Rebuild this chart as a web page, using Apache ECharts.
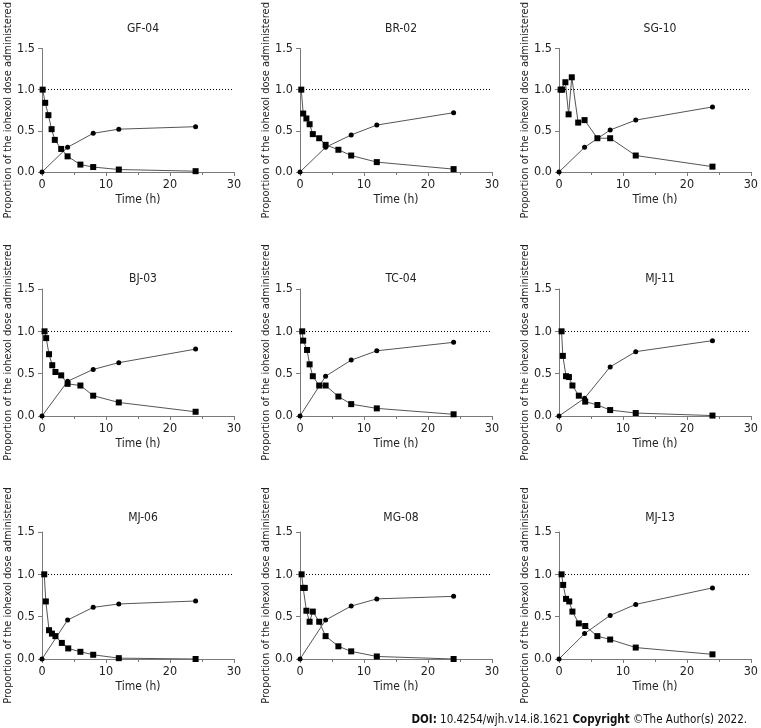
<!DOCTYPE html>
<html>
<head>
<meta charset="utf-8">
<script src="https://cdn.jsdelivr.net/npm/echarts@6/dist/echarts.min.js"></script>
<style>
html,body{margin:0;padding:0;background:#fff;}
#chart{width:761px;height:728px;}
</style>
</head>
<body>
<div id="chart"></div>
<script>
// ---- data ----
const panelNames = ['GF-04','BR-02','SG-10','BJ-03','TC-04','MJ-11','MJ-06','MG-08','MJ-13'];
const circleTime = [0, 4, 8, 12, 24];
const yTicks = [0, 0.5, 1.0, 1.5];
const xTicks = [0, 10, 20, 30];

const GF04_sqT = [0.1, 0.5, 1, 1.5, 2, 3, 4, 6, 8, 12, 24];
const GF04_sqV = [1.0, 0.84, 0.69, 0.52, 0.39, 0.28, 0.19, 0.09, 0.06, 0.03, 0.01];
const GF04_ciV = [0, 0.30, 0.47, 0.52, 0.55];

const BR02_sqT = [0.2, 0.5, 1, 1.5, 2, 3, 4, 6, 8, 12, 24];
const BR02_sqV = [1.0, 0.71, 0.65, 0.58, 0.46, 0.41, 0.33, 0.27, 0.20, 0.12, 0.035];
const BR02_ciV = [0, 0.30, 0.45, 0.57, 0.72];

const SG10_sqT = [0.25, 0.5, 1, 1.5, 2, 3, 4, 6, 8, 12, 24];
const SG10_sqV = [1.0, 1.0, 1.09, 0.70, 1.15, 0.60, 0.63, 0.41, 0.41, 0.20, 0.065];
const SG10_ciV = [0, 0.30, 0.51, 0.63, 0.79];

const BJ03_sqT = [0.4, 0.65, 1.1, 1.6, 2.1, 3, 4, 6, 8, 12, 24];
const BJ03_sqV = [1.0, 0.92, 0.73, 0.60, 0.52, 0.48, 0.38, 0.36, 0.24, 0.16, 0.05];
const BJ03_ciV = [0, 0.41, 0.55, 0.63, 0.79];

const TC04_sqT = [0.35, 0.5, 1.1, 1.5, 2, 3, 4, 6, 8, 12, 24];
const TC04_sqV = [1.0, 0.89, 0.78, 0.61, 0.47, 0.36, 0.36, 0.23, 0.14, 0.09, 0.02];
const TC04_ciV = [0, 0.47, 0.66, 0.77, 0.87];

const MJ11_sqT = [0.4, 0.6, 1.1, 1.55, 2.1, 3.1, 4.1, 6, 8, 12, 24];
const MJ11_sqV = [1.0, 0.71, 0.47, 0.46, 0.36, 0.24, 0.17, 0.13, 0.07, 0.035, 0.005];
const MJ11_ciV = [0, 0.21, 0.58, 0.76, 0.89];

const MJ06_sqT = [0.35, 0.6, 1.1, 1.55, 2.1, 3.1, 4.1, 6, 8, 12, 24];
const MJ06_sqV = [1.0, 0.68, 0.34, 0.30, 0.27, 0.19, 0.125, 0.085, 0.05, 0.01, 0.0];
const MJ06_ciV = [0, 0.46, 0.61, 0.65, 0.685];

const MG08_sqT = [0.25, 0.5, 0.75, 1, 1.5, 2, 3, 4, 6, 8, 12, 24];
const MG08_sqV = [1.0, 0.84, 0.84, 0.57, 0.44, 0.56, 0.44, 0.27, 0.15, 0.09, 0.03, 0.0];
const MG08_ciV = [0, 0.46, 0.625, 0.71, 0.74];

const MJ13_sqT = [0.4, 0.65, 1.1, 1.6, 2.1, 3.1, 4.1, 6, 8, 12, 24];
const MJ13_sqV = [1.0, 0.875, 0.71, 0.68, 0.56, 0.42, 0.39, 0.27, 0.23, 0.135, 0.055];
const MJ13_ciV = [0, 0.30, 0.515, 0.645, 0.84];

const panelSquares = [
  [GF04_sqT, GF04_sqV], [BR02_sqT, BR02_sqV], [SG10_sqT, SG10_sqV],
  [BJ03_sqT, BJ03_sqV], [TC04_sqT, TC04_sqV], [MJ11_sqT, MJ11_sqV],
  [MJ06_sqT, MJ06_sqV], [MG08_sqT, MG08_sqV], [MJ13_sqT, MJ13_sqV]
];
const panelCircles = [GF04_ciV, BR02_ciV, SG10_ciV, BJ03_ciV, TC04_ciV, MJ11_ciV, MJ06_ciV, MG08_ciV, MJ13_ciV];

// ---- layout ----
const FONT = "'DejaVu Sans Condensed', 'DejaVu Sans', sans-serif";
const colLeft = [42, 300, 559];
const plotW = 192;
const rowTop = [44, 289, 532];
const rowH = [128, 127, 127];
const titleTop = [18, 268, 507];
const AXC = '#7a7a7a';
const TXT = '#222';

const grids = [], xAxes = [], yAxes = [], series = [], titles = [];
panelNames.forEach((name, i) => {
  const r = Math.floor(i / 3), c = i % 3;
  grids.push({left: colLeft[c], top: rowTop[r], width: plotW, height: rowH[r], containLabel: false});
  titles.push({
    text: name, left: colLeft[c] + plotW / 2, top: titleTop[r], textAlign: 'center',
    textStyle: {fontFamily: FONT, fontSize: 12, fontWeight: 'normal', color: TXT}
  });
  xAxes.push({
    type: 'value', gridIndex: i, min: xTicks[0], max: xTicks[xTicks.length - 1], interval: 10,
    name: 'Time (h)', nameLocation: 'middle', nameGap: 22,
    nameTextStyle: {fontFamily: FONT, fontSize: 12, color: TXT},
    axisLine: {show: true, lineStyle: {color: AXC, width: 1}},
    axisTick: {show: true, length: 4, lineStyle: {color: AXC}},
    minorTick: {show: true, splitNumber: 2, length: 3, lineStyle: {color: AXC}},
    axisLabel: {fontFamily: FONT, fontSize: 12.5, color: TXT, margin: 6},
    splitLine: {show: false}
  });
  yAxes.push({
    type: 'value', gridIndex: i, min: yTicks[0], max: yTicks[yTicks.length - 1], interval: 0.5,
    name: 'Proportion of the iohexol dose administered', nameLocation: 'middle', nameGap: 28,
    nameTextStyle: {fontFamily: FONT, fontSize: 11, color: TXT, padding: [0, 0, 0, 0]},
    axisLine: {show: true, lineStyle: {color: AXC, width: 1}},
    axisTick: {show: true, length: 4, lineStyle: {color: AXC}},
    axisLabel: {fontFamily: FONT, fontSize: 12.5, color: TXT, margin: 7, formatter: v => v.toFixed(1)},
    splitLine: {show: false}
  });
  const [sqT, sqV] = panelSquares[i];
  series.push({
    type: 'line', xAxisIndex: i, yAxisIndex: i, silent: true,
    data: circleTime.map((t, k) => [t, panelCircles[i][k]]),
    symbol: 'circle', symbolSize: 5,
    itemStyle: {color: '#000'}, lineStyle: {color: '#555', width: 1}, z: 2
  });
  series.push({
    type: 'line', xAxisIndex: i, yAxisIndex: i, silent: true,
    data: sqT.map((t, k) => [t, sqV[k]]),
    symbol: 'rect', symbolSize: 6,
    itemStyle: {color: '#000'}, lineStyle: {color: '#555', width: 1}, z: 3,
    markLine: {
      silent: true, symbol: 'none', label: {show: false},
      lineStyle: {color: '#000', width: 1, type: [1, 2]},
      data: [[{coord: [0, 1]}, {coord: [30, 1]}]]
    }
  });
});

titles.push({
  text: '{b|DOI:} 10.4254/wjh.v14.i8.1621 {b|Copyright} \u00A9The Author(s) 2022.',
  right: 9, top: 709,
  textStyle: {
    fontFamily: FONT, fontSize: 11.5, fontWeight: 'normal', color: '#111',
    rich: {b: {fontFamily: FONT, fontSize: 11.5, fontWeight: 'bold', color: '#111'}}
  }
});

const chart = echarts.init(document.getElementById('chart'), null, {renderer: 'canvas'});
chart.setOption({
  animation: false,
  backgroundColor: '#fff',
  textStyle: {fontFamily: FONT},
  title: titles,
  grid: grids,
  xAxis: xAxes,
  yAxis: yAxes,
  series: series
});
</script>
</body>
</html>
